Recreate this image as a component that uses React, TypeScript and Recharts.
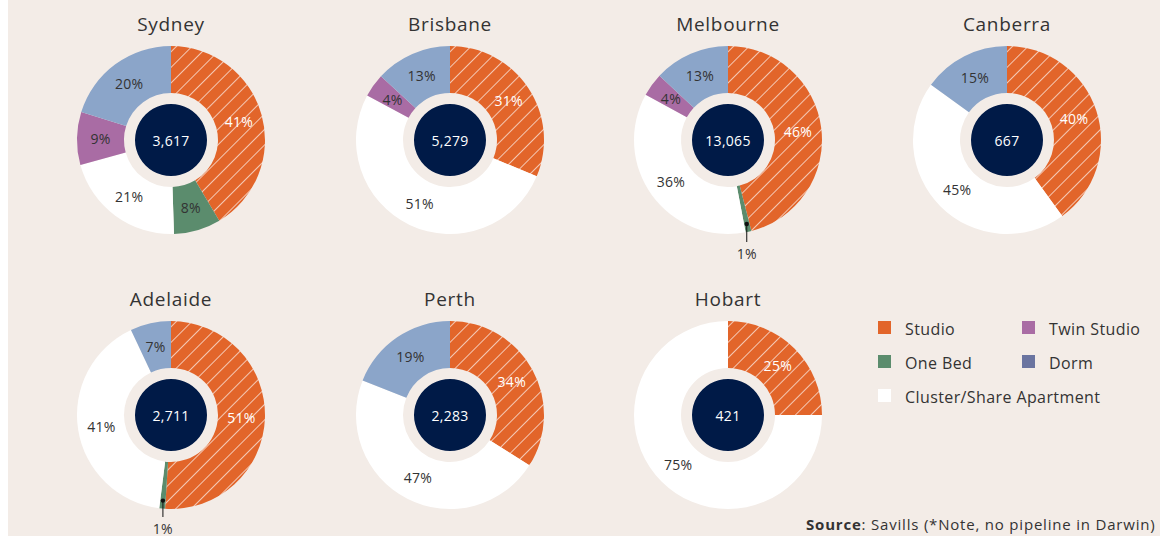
import React from "react";
import { PieChart, Pie, Cell, Label } from "recharts";

const CATEGORIES = ["Studio", "One Bed", "Cluster/Share Apartment", "Twin Studio", "Dorm"];
const CITIES = ["Sydney", "Brisbane", "Melbourne", "Canberra", "Adelaide", "Perth", "Hobart"];
const TOTALS = [3617, 5279, 13065, 667, 2711, 2283, 421];
const STUDIO = [41, 31, 46, 40, 51, 34, 25];
const ONE_BED = [8, 0, 1, 0, 1, 0, 0];
const CLUSTER = [21, 51, 36, 45, 41, 47, 75];
const TWIN = [9, 4, 4, 0, 0, 0, 0];
const DORM = [20, 13, 13, 15, 7, 19, 0];
const LEGEND_ORDER = ["Studio", "Twin Studio", "One Bed", "Dorm", "Cluster/Share Apartment"];

const ORANGE = "#E2652A";
const PIE_COLORS: Record<string, string> = {
  Studio: ORANGE,
  "One Bed": "#5B8C6D",
  "Cluster/Share Apartment": "#FFFFFF",
  "Twin Studio": "#A96CA4",
  Dorm: "#8BA5C9",
};
const LEGEND_COLORS: Record<string, string> = {
  Studio: ORANGE,
  "One Bed": "#5B8C6D",
  "Cluster/Share Apartment": "#FFFFFF",
  "Twin Studio": "#A96CA4",
  Dorm: "#6A74A0",
};
const BG = "#F3ECE7";
const NAVY = "#001A47";
const TEXT = "#333333";
const FONT = "'Open Sans', 'Noto Sans', sans-serif";

const COL_X = [171, 450, 728, 1007];
const ROW_Y = [140, 415];
const CHART_W = 260;
const CHART_H = 262;
const OFFSET_X = 8;

const RAD = Math.PI / 180;

function cityData(i: number) {
  const vals = [STUDIO[i], ONE_BED[i], CLUSTER[i], TWIN[i], DORM[i]];
  return CATEGORIES.map((name, k) => ({ name, value: vals[k] }));
}

function renderLabel(props: any) {
  const { cx, cy, midAngle, innerRadius, outerRadius, value, name } = props;
  if (!value) return null;
  const color = name === "Studio" ? "#FFFFFF" : TEXT;
  if (value < 2) {
    const r = outerRadius - 8;
    const px = cx + r * Math.cos(-midAngle * RAD);
    const py = cy + r * Math.sin(-midAngle * RAD);
    return (
      <g>
        <circle cx={px} cy={py} r={2.2} fill="#111" />
        <line x1={px} y1={py} x2={px} y2={cy + 102} stroke="#111" strokeWidth={1} />
        <text x={px} y={cy + 113} fill={TEXT} fontSize={14} letterSpacing={0.3} textAnchor="middle" dominantBaseline="central">
          {`${value}%`}
        </text>
      </g>
    );
  }
  const r = (innerRadius + outerRadius) / 2;
  const x = cx + r * Math.cos(-midAngle * RAD);
  const y = cy + r * Math.sin(-midAngle * RAD);
  return (
    <text x={x} y={y} fill={color} fontSize={14} letterSpacing={0.3} textAnchor="middle" dominantBaseline="central">
      {`${value}%`}
    </text>
  );
}

function CityChart({ i }: { i: number }) {
  const col = i < 4 ? i : i - 4;
  const row = i < 4 ? 0 : 1;
  const cx = COL_X[col];
  const cy = ROW_Y[row];
  const data = cityData(i);
  const pid = `hatch-${i}`;
  return (
    <>
      <div
        style={{
          position: "absolute",
          left: cx - OFFSET_X - 100,
          top: cy - 128,
          width: 200,
          textAlign: "center",
          fontSize: 19,
          lineHeight: "24px",
          color: TEXT,
          letterSpacing: 0.7,
        }}
      >
        {CITIES[i]}
      </div>
      <div style={{ position: "absolute", left: cx - OFFSET_X - CHART_W / 2, top: cy - 130 }}>
        <PieChart width={CHART_W} height={CHART_H} margin={{ top: 0, right: 0, bottom: 0, left: 0 }}>
          <defs>
            <pattern id={pid} patternUnits="userSpaceOnUse" width={11} height={11} patternTransform="rotate(45)">
              <rect x={0} y={0} width={11} height={11} fill={ORANGE} />
              <line x1={0} y1={0} x2={0} y2={11} stroke="#FFFFFF" strokeWidth={1.3} />
            </pattern>
          </defs>
          <Pie
            data={data}
            dataKey="value"
            nameKey="name"
            cx={130}
            cy={130}
            startAngle={90}
            endAngle={-270}
            innerRadius={47}
            outerRadius={94}
            stroke="none"
            isAnimationActive={false}
            labelLine={false}
            label={renderLabel}
          >
            {data.map((d) => (
              <Cell key={d.name} fill={d.name === "Studio" ? `url(#${pid})` : PIE_COLORS[d.name]} stroke="none" />
            ))}
          </Pie>
          <Pie
            data={[{ name: "total", value: TOTALS[i] }]}
            dataKey="value"
            cx={130}
            cy={130}
            innerRadius={0}
            outerRadius={36}
            fill={NAVY}
            stroke="none"
            isAnimationActive={false}
          >
            <Label
              value={TOTALS[i].toLocaleString("en-US")}
              position="center"
              fill="#FFFFFF"
              fontSize={14}
              letterSpacing={0.3}
            />
          </Pie>
        </PieChart>
      </div>
    </>
  );
}

export default function App() {
  return (
    <div
      style={{
        position: "absolute",
        left: OFFSET_X,
        top: 0,
        width: 1160 - OFFSET_X,
        height: 536,
        background: BG,
        overflow: "hidden",
        fontFamily: FONT,
      }}
    >
      {CITIES.map((c, i) => (
        <CityChart key={c} i={i} />
      ))}
      {LEGEND_ORDER.map((name, k) => {
        const col = k % 2;
        const row = Math.floor(k / 2);
        const left = (col === 0 ? 878 : 1022) - OFFSET_X;
        const top = 321 + row * 34;
        return (
          <div key={name} style={{ position: "absolute", left, top, height: 13 }}>
            <div style={{ position: "absolute", left: 0, top: 0, width: 13, height: 13, background: LEGEND_COLORS[name] }} />
            <div
              style={{
                position: "absolute",
                left: 27,
                top: -3,
                fontSize: 16,
                lineHeight: "22px",
                letterSpacing: 0.4,
                color: TEXT,
                whiteSpace: "nowrap",
              }}
            >
              {name}
            </div>
          </div>
        );
      })}
      <div
        style={{
          position: "absolute",
          left: 806 - OFFSET_X,
          top: 514,
          fontSize: 15,
          lineHeight: "20px",
          letterSpacing: 0.8,
          color: TEXT,
          whiteSpace: "nowrap",
        }}
      >
        <b>Source</b>: Savills (*Note, no pipeline in Darwin)
      </div>
    </div>
  );
}
